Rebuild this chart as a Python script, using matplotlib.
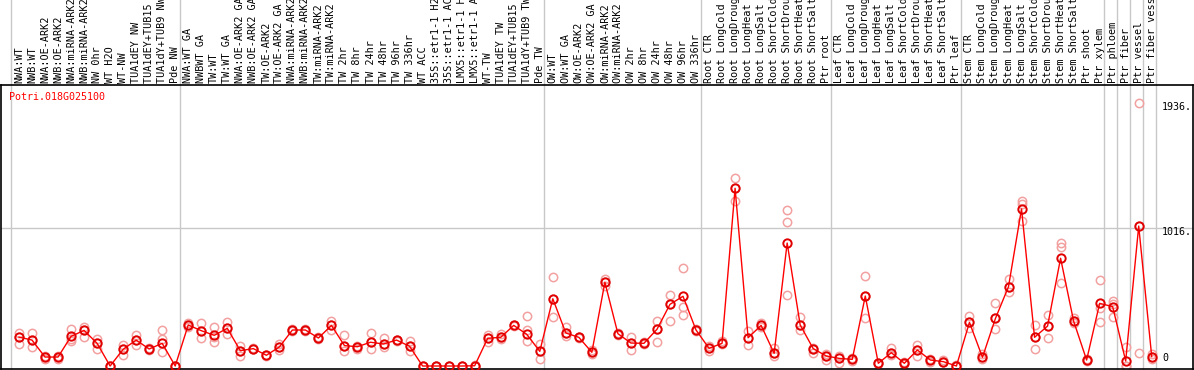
import numpy as np
from matplotlib import pyplot as plt

gene = "Potri.018G025100"

samples = [
    "NWA:WT", "NWB:WT", "NWA:OE-ARK2", "NWB:OE-ARK2", "NWA:miRNA-ARK2", "NWB:miRNA-ARK2",
    "NW 0hr", "WT H2O", "WT-NW", "TUA1dEY NW", "TUA1dEY+TUB15 NW", "TUA1dY+TUB9 NW", "Pde NW",
    "NWA:WT GA", "NWBWT GA", "TW:WT", "TW:WT GA", "NWA:OE-ARK2 GA", "NWB:OE-ARK2 GA",
    "TW:OE-ARK2", "TW:OE-ARK2 GA", "NWA:miRNA-ARK2 GA", "NWB:miRNA-ARK2 GA", "TW:miRNA-ARK2",
    "TW:miRNA-ARK2 GA", "TW 2hr", "TW 8hr", "TW 24hr", "TW 48hr", "TW 96hr", "TW 336hr",
    "WT ACC", "35S::etr1-1 H2O", "35S::etr1-1 ACC", "LMX5::etr1-1 H2O", "LMX5::etr1-1 ACC",
    "WT-TW", "TUA1dEY TW", "TUA1dEY+TUB15 TW", "TUA1dY+TUB9 TW", "Pde TW",
    "OW:WT", "OW:WT GA", "OW:OE-ARK2", "OW:OE-ARK2 GA", "OW:miRNA-ARK2", "OW:miRNA-ARK2 GA",
    "OW 2hr", "OW 8hr", "OW 24hr", "OW 48hr", "OW 96hr", "OW 336hr",
    "Root CTR", "Root LongCold", "Root LongDrought", "Root LongHeat", "Root LongSalt",
    "Root ShortCold", "Root ShortDrought", "Root ShortHeat", "Root ShortSalt", "Ptr root",
    "Leaf CTR", "Leaf LongCold", "Leaf LongDrought", "Leaf LongHeat", "Leaf LongSalt",
    "Leaf ShortCold", "Leaf ShortDrought", "Leaf ShortHeat", "Leaf ShortSalt", "Ptr leaf",
    "Stem CTR", "Stem LongCold", "Stem LongDrought", "Stem LongHeat", "Stem LongSalt",
    "Stem ShortCold", "Stem ShortDrought", "Stem ShortHeat", "Stem ShortSalt", "Ptr shoot",
    "Ptr xylem", "Ptr phloem", "Ptr fiber", "Ptr vessel", "Ptr fiber vessel",
]

# number of samples in each block (separated by grey lines)
group_sizes = [13, 28, 12, 10, 10, 11, 1, 1, 1, 1]

means = [213, 191, 66, 66, 218, 262, 167, 0, 123, 191, 125, 167, 0,
         302, 260, 226, 277, 113, 128, 79, 140, 265, 265, 206, 299, 150, 142, 175, 162, 191,
         145, 0, 0, 0, 0, 2, 204, 211, 299, 233, 108,
         495, 243, 211, 101, 616, 238, 169, 167, 270, 454, 513, 265,
         130, 167, 1308, 208, 299, 93, 905, 302, 128, 74,
         56, 49, 515, 20, 98, 20, 118, 44, 32, 0,
         321, 64, 351, 584, 1156, 211, 294, 793, 331, 44, 461,
         437, 37, 1030, 69]

replicates = [
    [245, 213, 162], [243, 191, 140], [51, 66, 70], [55, 66, 72], [272, 200, 186],
    [289, 262, 213], [199, 170, 125], [0, 0, 2], [155, 123, 83], [228, 191, 152],
    [125, 120, 130], [265, 199, 101], [0, 0, 3],
    [319, 302, 290], [319, 260, 204], [289, 210, 179], [321, 277, 233], [147, 113, 76],
    [128, 125, 132], [79, 75, 84], [165, 140, 115], [265, 270, 260], [265, 260, 272],
    [206, 200, 212], [334, 299, 265], [226, 150, 110], [142, 125, 150], [243, 175, 128],
    [204, 162, 140], [191, 185, 195], [186, 145, 113], [0, 0, 0], [0, 0, 0], [0, 0, 0],
    [0, 0, 0], [2, 0, 5], [228, 204, 180], [236, 211, 200], [299, 295, 305],
    [368, 265, 186], [162, 108, 49],
    [653, 495, 358], [285, 243, 220], [211, 205, 215], [120, 101, 85], [643, 616, 590],
    [238, 230, 245], [213, 169, 120], [174, 167, 160], [329, 270, 174], [523, 454, 331],
    [719, 432, 373], [265, 260, 270],
    [150, 130, 110], [186, 167, 160], [1381, 1308, 1214], [258, 208, 152], [320, 299, 290],
    [130, 93, 70], [1148, 1058, 523], [358, 302, 265], [128, 98, 135], [90, 74, 44],
    [70, 56, 25], [60, 49, 35], [662, 515, 351], [20, 15, 25], [130, 98, 80],
    [30, 20, 15], [155, 118, 76], [55, 44, 30], [45, 32, 28], [0, 5, 0],
    [368, 321, 282], [90, 64, 55], [461, 351, 272], [640, 584, 547], [1214, 1067, 1190],
    [302, 211, 123], [375, 294, 204], [903, 878, 613], [351, 331, 320], [44, 40, 50],
    [633, 430, 321],
    [481, 460, 358], [142, 0, 0], [1936, 1030, 93], [90, 69, 50],
]

ytick_values = [1936, 1016, 0]
ytick_labels = ["1936.", "1016.", "0"]

mono = "DejaVu Sans Mono"
W, H = 1194, 370

fig = plt.figure(figsize=(W / 100, H / 100), dpi=100)
ax = fig.add_axes([1 / W, 1 / H, 1192 / W, 284 / H])

x = np.arange(len(samples))

# pale replicate circles first, mean line on top
for i, reps in enumerate(replicates):
    ax.plot([i] * len(reps), reps, 'o', ms=6, mfc='none', mec='#f2a0a0', mew=1.1, zorder=2)
ax.plot(x, means, '-', color='#ff0000', lw=1, zorder=3)
ax.plot(x, means, 'o', ms=6, mfc='none', mec='#e00000', mew=1.4, zorder=4)

# block separators run up through the label strip
bounds = np.cumsum([0] + group_sizes) - 0.65
for b in bounds:
    ax.axvline(b, ymin=0, ymax=1.31, color='#c8c8c8', lw=1, clip_on=False, zorder=1)
ax.axhline(1016, color='#c8c8c8', lw=1, zorder=1)

# sample names, clipped at the top edge like the original
for i, name in enumerate(samples):
    ax.annotate(name, xy=(i, 1), xycoords=('data', 'axes fraction'), xytext=(0, 1.5),
                textcoords='offset points', rotation=90, ha='center', va='bottom',
                family=mono, fontsize=7.3, annotation_clip=False)

for v, lab in zip(ytick_values, ytick_labels):
    va = 'bottom' if v == 0 else 'top'
    ax.annotate(lab, xy=(len(samples) - 0.2, v), xytext=(0, 1 if v else 2),
                textcoords='offset points', ha='left', va=va, family=mono, fontsize=7.2)

ax.text(0.007, 0.957, gene, transform=ax.transAxes, color='red', family=mono,
        fontsize=7.2, ha='left', va='center')

ax.set_xlim(-1.38, 90.17)
ax.set_ylim(-22, 2068)
ax.set_xticks([])
ax.set_yticks([])
for s in ax.spines.values():
    s.set_color('black')
    s.set_linewidth(1.2)

fig.savefig("out.png", dpi=100)
